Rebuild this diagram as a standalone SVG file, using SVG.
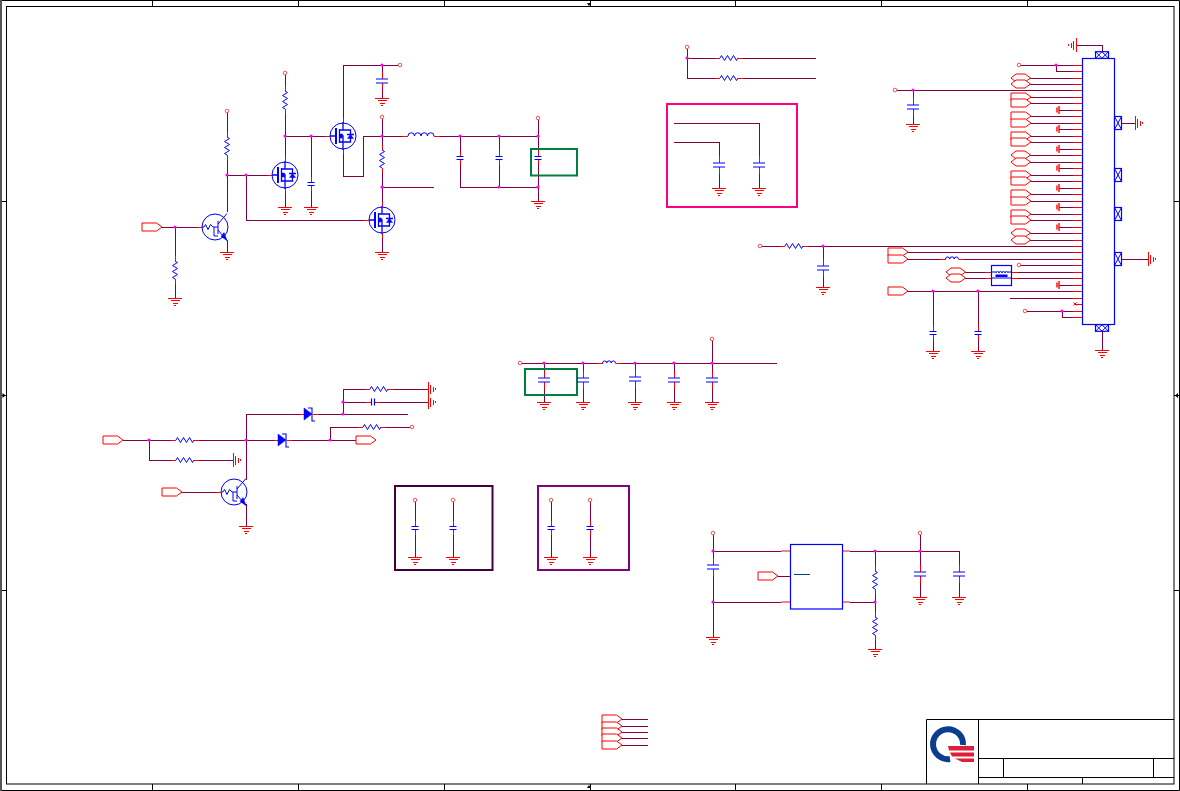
<svg xmlns="http://www.w3.org/2000/svg" xmlns:xlink="http://www.w3.org/1999/xlink" width="1180" height="791" viewBox="0 0 1180 791">
<style>
.w{fill:none;stroke:#800040;stroke-width:1;shape-rendering:crispEdges}
.r{fill:none;stroke:#ff0000;stroke-width:1;shape-rendering:crispEdges}
.gs{fill:none;stroke:#ff0000;stroke-width:1.400}
.rl{fill:#fff;stroke:#ff0000;stroke-width:1}
.u{fill:none;stroke:#fff;stroke-width:3}
.b{fill:none;stroke:#0000ff;stroke-width:1}
.bw{fill:#fff;stroke:#0000ff;stroke-width:1.200}
.bf{fill:#0000ff;stroke:#0000ff;stroke-width:.5}
.k{fill:none;stroke:#000;stroke-width:1}
.j{fill:#ff00ff}
.o{fill:#fff;stroke:#f04040;stroke-width:.9}
.bx{fill:none;stroke-width:2}
</style>
<defs>
<g id="gnd"><path class="r" d="M-7 0H7M-4.500 2.500H4.500M-2.500 5H2.500M-1 7.500H1"/></g>
<g id="gndS"><path class="gs" d="M-4 0H4M-2.500 2H2.500"/></g>
<g id="capB"><path class="u" d="M0 -2V2"/><path class="r" d="M0 -9V-2M0 2V9"/><path class="b" style="stroke-width:1.200" d="M-6 -2H6M-6 2H6"/></g>
<g id="capS"><path class="u" d="M0 -1.500V1.500"/><path class="r" d="M0 -7V-1.500M0 1.500V7"/><path class="b" style="stroke-width:1.200" d="M-3.500 -1.500H3.500M-3.500 1.500H3.500"/></g>
<g id="res"><path class="u" d="M-9 0H9"/><path class="r" d="M-14 0H-9M9 0H14"/><path class="b" d="M-9 0L-7.500 -2.500L-4.500 2.500L-1.500 -2.500L1.500 2.500L4.500 -2.500L7.500 2.500L9 0"/></g>
<g id="ind"><path class="u" d="M-13 0H13"/><path class="r" d="M-19 0H-13M13 0H19"/><path class="b" d="M-13 0A3.250 3.250 0 0 1 -6.500 0A3.250 3.250 0 0 1 0 0A3.250 3.250 0 0 1 6.500 0A3.250 3.250 0 0 1 13 0"/></g>
<g id="indS"><path class="u" d="M-6.500 0H6.500"/><path class="r" d="M-12 0H-6.500M6.500 0H12"/><path class="b" d="M-6.500 0A2.170 2.170 0 0 1 -2.170 0A2.170 2.170 0 0 1 2.170 0A2.170 2.170 0 0 1 6.500 0"/></g>
<g id="mos"><circle class="b" r="13"/><path class="r" d="M-18 0H-13M0 -18V-13M0 13V18"/><path class="b" style="stroke-width:2" d="M-7 -8V8"/><path class="b" style="stroke-width:1.300" d="M-13 0H-7M-3.500 -7V7M-3.500 -6H0V-14M-3.500 6H0V14M-3.500 0H0V6M0 -6H7.500V6H0M4 -1.500H11"/><path class="bf" d="M-3 -2H-.5V2H-3ZM7.500 -1.500L4.500 2.500H10.500Z"/></g>
<g id="npn"><circle class="b" r="13"/><path class="r" d="M-18 0H-13"/><path class="b" d="M-13 0H-11L-9.500 -2.500L-7 2.500L-4.500 -2.500L-2 0H3M3 -6V7M3 -3L12 -13.500M3 3L12 13.500M-1 0V9H3"/><path class="bf" d="M12 13.500L6 9.500L9 5.500Z"/></g>
<g id="dio"><path class="u" d="M-5 0H4"/><path class="r" d="M-9 0H-5M4 0H9"/><path class="bf" d="M-5 -6L3 0L-5 6Z"/><path class="b" style="stroke-width:1.100" d="M-1 -6H3V7H6"/></g>
<g id="pIn"><path class="rl" d="M0 -4H14.500L20 0L14.500 4H0Z"/></g>
<g id="pBi"><path class="rl" d="M0 0L5 -4H14L19.500 0L14 4H5Z"/></g>
<g id="tabH"><rect class="bw" x="-6.500" y="-3.300" width="13" height="6.600"/><path class="b" d="M-6.500 -3.300L0 3.300L6.500 -3.300M-6.500 3.300L0 -3.300L6.500 3.300"/></g>
<g id="tabV"><rect class="bw" x="-3.500" y="-6.500" width="7" height="13"/><path class="b" d="M-3.500 -6.500L3.500 6.500M3.500 -6.500L-3.500 6.500"/></g>
</defs>

<g id="frame">
<rect x="0" y="0" width="2" height="791" fill="#555"/>
<path class="k" d="M2 .5H1179.500V790.500H2"/>
<rect class="k" x="6.500" y="6.500" width="1167.500" height="777.500"/>
<path class="k" d="M152.500 1V6M298.500 1V6M444.500 1V6M590.500 1V6M735.500 1V6M881.500 1V6M1027.500 1V6M152.500 784V790M298.500 784V790M444.500 784V790M590.500 784V790M735.500 784V790M881.500 784V790M1027.500 784V790M2 201.500H6M2 395.500H6M2 590.500H6M1174 201.500H1179M1174 395.500H1179M1174 590.500H1179"/>
<path d="M587 3L591 3L589 6ZM587 788L591 788L589 785ZM2.500 393L2.500 398L5.500 395.500ZM1178 393L1178 398L1175 395.500Z" fill="#000"/>
</g>

<g id="title-block">
<path class="k" d="M926.500 784V719.500H1174M978.500 719.500V784M978.500 758.500H1174M978.500 777.500H1174M1003.500 758.500V777.500M1153.500 758.500V777.500M1082.500 777.500V784"/>
<path d="M950 759A15 15 0 1 1 963 745" fill="none" stroke="#0a3d8f" stroke-width="6"/>
<path d="M948 746H974V750.500H949ZM950 752.500H974V756.500H952ZM955 758.500H974V762H962Z" fill="#dc2038"/>
</g>

<g id="connectors">
<path class="w" d="M162 227H197M175 227V298M227 113V212M227 175H267M246 175V220H364M227 240V252"/>
<path class="w" d="M285 75V157M285 193V207M285 136H325M311 136V207M343 118V65H398M382 65V98M343 154V176H363V136H402M382 119V202M382 238V252M382 187H434"/>
<path class="w" d="M440 136H538M538 120V201M460 136V187H538M499 136V187"/>
<path class="w" d="M687 49V78M687 58H816M687 78H816"/>
<path class="w" d="M674 123H759V188M674 142H719V188"/>
<path class="w" d="M897 90H1073M913 90V124M1021 65H1073M1056 65V71H1073"/>
<path class="w" d="M1030 78H1073M1030 84H1073M1030 97H1073M1030 103H1073M1030 116H1073M1030 123H1073M1030 136H1073M1030 142H1073M1030 155H1073M1030 162H1073M1030 175H1073M1030 181H1073M1030 194H1073M1030 201H1073M1030 214H1073M1030 220H1073M1030 233H1073M1030 240H1073"/>
<path class="w" d="M1059 110H1073M1059 129H1073M1059 149H1073M1059 168H1073M1059 188H1073M1059 207H1073M1059 227H1073M1059 285H1073"/>
<path class="w" d="M762 246H1073M823 246V287M907 252H1073M907 259H1073M1021 265H1073M965 272H1073M965 278H1073M907 291H1073M933 291V351M978 291V351M1010 298H1073M1027 311H1073M1062 311V317H1073"/>
<path class="w" d="M1076 45H1102V52M1121 123H1135M1121 259H1148M1102 331V350"/>
<path class="w" d="M522 363H777M544 363V402M583 363V402M635 363V402M674 363V402M712 341V402"/>
<path class="w" d="M123 440H356M149 440V460H233M246 414V480M246 504V526M246 414H408M343 414V389H428M343 402H428M330 440V427H410M181 492H216"/>
<path class="w" d="M415 502V557M453 502V557M551 502V557M590 502V557"/>
<path class="w" d="M713 535V637M713 551H781M713 602H781M778 576H790M850 551H959M850 602H875M875 551V649M920 535V597M959 551V597"/>
<path class="w" d="M622 719H648M622 726H648M622 732H648M622 738H648M622 745H648"/>
<path class="r" d="M1073 65h9M1073 71h9M1073 78h9M1073 84h9M1073 90h9M1073 97h9M1073 103h9M1073 110h9M1073 116h9M1073 123h9M1073 129h9M1073 136h9M1073 142h9M1073 149h9M1073 155h9M1073 162h9M1073 168h9M1073 175h9M1073 181h9M1073 188h9M1073 194h9M1073 201h9M1073 207h9M1073 214h9M1073 220h9M1073 227h9M1073 233h9M1073 240h9M1073 246h9M1073 252h9M1073 259h9M1073 265h9M1073 272h9M1073 278h9M1073 285h9M1073 291h9M1073 298h9M1076 304h6M1073 311h9M1073 317h9"/>
<path class="r" style="shape-rendering:auto" d="M781 551h9M781 602h9M842 551h8M842 602h8M1073.500 302.500l3 3M1076.500 302.500l-3 3"/>
<g class="j"><circle cx="175" cy="227" r="1.600"/><circle cx="227" cy="175" r="1.600"/><circle cx="246" cy="175" r="1.600"/><circle cx="285" cy="136" r="1.600"/><circle cx="311" cy="136" r="1.600"/><circle cx="382" cy="65" r="1.600"/><circle cx="382" cy="136" r="1.600"/><circle cx="382" cy="187" r="1.600"/><circle cx="460" cy="136" r="1.600"/><circle cx="499" cy="136" r="1.600"/><circle cx="538" cy="136" r="1.600"/><circle cx="499" cy="187" r="1.600"/><circle cx="538" cy="187" r="1.600"/><circle cx="687" cy="58" r="1.600"/><circle cx="913" cy="90" r="1.600"/><circle cx="1056" cy="65" r="1.600"/><circle cx="823" cy="246" r="1.600"/><circle cx="933" cy="291" r="1.600"/><circle cx="978" cy="291" r="1.600"/><circle cx="1062" cy="311" r="1.600"/><circle cx="544" cy="363" r="1.600"/><circle cx="583" cy="363" r="1.600"/><circle cx="635" cy="363" r="1.600"/><circle cx="674" cy="363" r="1.600"/><circle cx="712" cy="363" r="1.600"/><circle cx="149" cy="440" r="1.600"/><circle cx="246" cy="440" r="1.600"/><circle cx="343" cy="414" r="1.600"/><circle cx="343" cy="402" r="1.600"/><circle cx="330" cy="440" r="1.600"/><circle cx="713" cy="551" r="1.600"/><circle cx="713" cy="602" r="1.600"/><circle cx="875" cy="551" r="1.600"/><circle cx="875" cy="602" r="1.600"/><circle cx="920" cy="551" r="1.600"/></g>
</g>

<g id="regions">
<rect class="bx" stroke="#008040" x="531" y="149" width="46" height="26.500"/>
<rect class="bx" stroke="#ff0080" x="667" y="104" width="130" height="103"/>
<rect class="bx" stroke="#008040" x="525" y="369" width="52" height="26"/>
<rect class="bx" stroke="#400040" x="395" y="486" width="97.500" height="84"/>
<rect class="bx" stroke="#800080" x="538" y="486" width="91" height="84"/>
</g>

<g id="Q1"><use href="#npn" x="215" y="227"/></g>
<g id="Q2"><use href="#mos" x="285" y="175"/></g>
<g id="Q3"><use href="#mos" x="343" y="136"/></g>
<g id="Q4"><use href="#mos" x="382" y="220"/></g>
<g id="Q5"><use href="#npn" x="234" y="492"/></g>

<g id="resistors">
<use href="#res" transform="translate(175 270) rotate(90)"/>
<use href="#res" transform="translate(227 146) rotate(90)"/>
<use href="#res" transform="translate(285 100) rotate(90)"/>
<use href="#res" transform="translate(382 159) rotate(90)"/>
<use href="#res" x="729" y="58"/>
<use href="#res" x="729" y="78"/>
<use href="#res" x="794" y="246"/>
<use href="#res" x="185" y="440"/>
<use href="#res" x="185" y="460"/>
<use href="#res" x="379" y="389"/>
<use href="#res" x="372" y="427"/>
<use href="#res" transform="translate(875 580) rotate(90)"/>
<use href="#res" transform="translate(875 626) rotate(90)"/>
</g>

<g id="capacitors">
<use href="#capB" x="382" y="81"/>
<use href="#capS" x="311" y="184"/>
<use href="#capS" x="460" y="158"/>
<use href="#capS" x="499" y="158"/>
<use href="#capS" x="538" y="158"/>
<use href="#capB" x="719" y="165"/>
<use href="#capB" x="759" y="165"/>
<use href="#capB" x="913" y="107"/>
<use href="#capB" x="823" y="268"/>
<use href="#capS" x="933" y="333"/>
<use href="#capS" x="978" y="333"/>
<use href="#capB" x="544" y="380"/>
<use href="#capB" x="583" y="380"/>
<use href="#capB" x="635" y="379"/>
<use href="#capB" x="674" y="380"/>
<use href="#capB" x="712" y="380"/>
<use href="#capS" transform="translate(373 402) rotate(90)"/>
<use href="#capS" x="415" y="528"/>
<use href="#capS" x="453" y="528"/>
<use href="#capS" x="551" y="528"/>
<use href="#capS" x="590" y="528"/>
<use href="#capB" x="713" y="567"/>
<use href="#capB" x="920" y="574"/>
<use href="#capB" x="959" y="574"/>
</g>

<g id="inductors">
<use href="#ind" x="421" y="136"/>
<use href="#indS" x="609" y="363"/>
<use href="#indS" x="952" y="259"/>
</g>

<g id="diodes">
<use href="#dio" x="309" y="414"/>
<use href="#dio" x="283" y="440"/>
</g>

<g id="grounds">
<use href="#gnd" x="175" y="298"/><use href="#gnd" x="227" y="252"/><use href="#gnd" x="285" y="207"/><use href="#gnd" x="311" y="207"/><use href="#gnd" x="382" y="98"/><use href="#gnd" x="382" y="252"/><use href="#gnd" x="538" y="201"/><use href="#gnd" x="719" y="188"/><use href="#gnd" x="759" y="188"/><use href="#gnd" x="913" y="124"/><use href="#gnd" x="823" y="287"/><use href="#gnd" x="933" y="351"/><use href="#gnd" x="978" y="351"/><use href="#gnd" x="1102" y="350"/><use href="#gnd" x="544" y="402"/><use href="#gnd" x="583" y="402"/><use href="#gnd" x="635" y="402"/><use href="#gnd" x="674" y="402"/><use href="#gnd" x="712" y="402"/><use href="#gnd" x="246" y="526"/><use href="#gnd" x="415" y="557"/><use href="#gnd" x="453" y="557"/><use href="#gnd" x="551" y="557"/><use href="#gnd" x="590" y="557"/><use href="#gnd" x="713" y="637"/><use href="#gnd" x="875" y="649"/><use href="#gnd" x="920" y="597"/><use href="#gnd" x="959" y="597"/>
<use href="#gnd" transform="translate(1076 45) rotate(90)"/>
<use href="#gnd" transform="translate(1135 123) rotate(-90)"/>
<use href="#gnd" transform="translate(1148 259) rotate(-90)"/>
<use href="#gnd" transform="translate(428 389) rotate(-90)"/>
<use href="#gnd" transform="translate(428 402) rotate(-90)"/>
<use href="#gnd" transform="translate(233 460) rotate(-90)"/>
<use href="#gndS" transform="translate(1059 110) rotate(90)"/><use href="#gndS" transform="translate(1059 129) rotate(90)"/><use href="#gndS" transform="translate(1059 149) rotate(90)"/><use href="#gndS" transform="translate(1059 168) rotate(90)"/><use href="#gndS" transform="translate(1059 188) rotate(90)"/><use href="#gndS" transform="translate(1059 207) rotate(90)"/><use href="#gndS" transform="translate(1059 227) rotate(90)"/><use href="#gndS" transform="translate(1059 285) rotate(90)"/>
</g>

<g id="off-page">
<use href="#pIn" x="142" y="227"/><use href="#pIn" x="103" y="440"/><use href="#pIn" x="162" y="492"/><use href="#pIn" x="356" y="440"/><use href="#pIn" x="758" y="576"/>
<use href="#pIn" x="888" y="252"/><use href="#pIn" x="888" y="259"/><use href="#pIn" x="888" y="291"/>
<use href="#pBi" x="946" y="272"/><use href="#pBi" x="946" y="278"/>
<use href="#pBi" x="1011" y="78"/><use href="#pBi" x="1011" y="84"/><use href="#pIn" x="1011" y="97"/><use href="#pIn" x="1011" y="103"/><use href="#pIn" x="1011" y="116"/><use href="#pIn" x="1011" y="123"/><use href="#pIn" x="1011" y="136"/><use href="#pIn" x="1011" y="142"/><use href="#pBi" x="1011" y="155"/><use href="#pBi" x="1011" y="162"/><use href="#pIn" x="1011" y="175"/><use href="#pIn" x="1011" y="181"/><use href="#pIn" x="1011" y="194"/><use href="#pIn" x="1011" y="201"/><use href="#pIn" x="1011" y="214"/><use href="#pIn" x="1011" y="220"/><use href="#pBi" x="1011" y="233"/><use href="#pBi" x="1011" y="240"/>
<use href="#pIn" x="602" y="719"/><use href="#pIn" x="602" y="726"/><use href="#pIn" x="602" y="732"/><use href="#pIn" x="602" y="738"/><use href="#pIn" x="602" y="745"/>
</g>

<g id="rails">
<circle class="o" cx="227" cy="111" r="1.800"/><circle class="o" cx="285" cy="73" r="1.800"/><circle class="o" cx="400" cy="65" r="1.800"/><circle class="o" cx="382" cy="117" r="1.800"/><circle class="o" cx="538" cy="118" r="1.800"/><circle class="o" cx="687" cy="47" r="1.800"/><circle class="o" cx="895" cy="90" r="1.800"/><circle class="o" cx="1019" cy="65" r="1.800"/><circle class="o" cx="760" cy="246" r="1.800"/><circle class="o" cx="1019" cy="265" r="1.800"/><circle class="o" cx="1025" cy="311" r="1.800"/><circle class="o" cx="520" cy="363" r="1.800"/><circle class="o" cx="712" cy="339" r="1.800"/><circle class="o" cx="412" cy="427" r="1.800"/><circle class="o" cx="415" cy="500" r="1.800"/><circle class="o" cx="453" cy="500" r="1.800"/><circle class="o" cx="551" cy="500" r="1.800"/><circle class="o" cx="590" cy="500" r="1.800"/><circle class="o" cx="713" cy="533" r="1.800"/><circle class="o" cx="920" cy="533" r="1.800"/>
</g>

<g id="J1">
<rect class="b" style="stroke-width:1.200" x="1082.500" y="58.500" width="32" height="266"/>
<use href="#tabH" x="1102" y="55"/><use href="#tabH" x="1102" y="328"/>
<use href="#tabV" x="1118" y="123"/><use href="#tabV" x="1118" y="175"/><use href="#tabV" x="1118" y="214"/><use href="#tabV" x="1118" y="259"/>
</g>

<g id="L1">
<rect class="bw" x="991.500" y="265.500" width="20" height="20"/>
<path class="r" d="M985 272h6M985 278h6M1012 272h6M1012 278h6"/>
<path class="b" d="M996 273A1.500 1.500 0 0 1 999 273A1.500 1.500 0 0 1 1002 273A1.500 1.500 0 0 1 1005 273A1.500 1.500 0 0 1 1008 273M991 272H996M1008 272H1012M991 278H1012"/>
<path d="M995.500 274.500H1007.500V277H995.500Z" fill="#0000ff"/>
</g>

<g id="U1">
<rect class="b" style="stroke-width:1.200" x="790.500" y="544.500" width="52" height="64.500"/>
<path d="M794 574.500H810" stroke="#004080" fill="none"/>
</g>
</svg>
